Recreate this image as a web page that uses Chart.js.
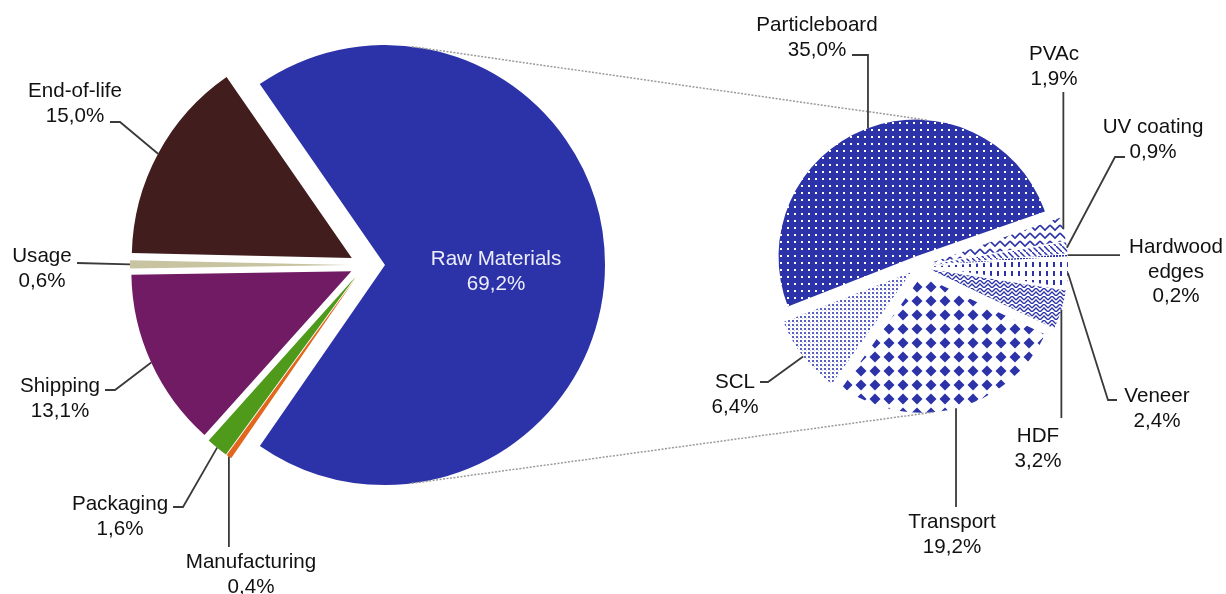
<!DOCTYPE html>
<html>
<head>
<meta charset="utf-8">
<script src="https://cdn.jsdelivr.net/npm/chart.js@4.4.1/dist/chart.umd.min.js"></script>
<style>
  html, body { margin: 0; padding: 0; background: #fff; }
  #wrap { position: relative; width: 1226px; height: 594px; }
  canvas { position: absolute; left: 0; top: 0; }
</style>
</head>
<body>
<div id="wrap">
  <canvas id="lifeCycle" width="1226" height="594"></canvas>
  <canvas id="rawBreakdown" width="1226" height="594"></canvas>
</div>
<script>
// life cycle phases, share of total (%)
const phaseLabels = ["Raw Materials", "Manufacturing", "Packaging", "Shipping", "Usage", "End-of-life"];
const phaseShares = [69.2, 0.4, 1.6, 13.1, 0.6, 15.0];
const phaseColors = ["#2c32a8", "#e2661d", "#4f9a1b", "#701b64", "#c8c3a1", "#421d1d"];

// raw materials broken down, share of total (%)
const rawLabels = ["Particleboard", "PVAc", "UV coating", "Hardwood edges", "Veneer", "HDF", "Transport", "SCL"];
const rawShares = [35.0, 1.9, 0.9, 0.2, 2.4, 3.2, 19.2, 6.4];

const BLUE = "#2c32a8";
const FONT = '20.6px "Liberation Sans", Arial, sans-serif';
const LINE_H = 24.5;

// how far each slice is pulled out of the pie (px)
const phaseExplode = [20, 15, 15, 15, 15, 15];
const rawExplode = [10, 12, 12, 12, 12, 12, 10, 10];

// label placement: text centre x, first baseline y, leader bend points (null = keep arc coordinate)
const phaseCallouts = [
  { x: 496, y: 265, color: "#eceefa" },
  { x: 251, y: 568, leader: [[null, 547]] },
  { x: 120, y: 510, leader: [[183, 507], [173, 507]] },
  { x: 60, y: 392, leader: [[115, 390], [105, 390]] },
  { x: 42, y: 262, leader: [[77, 263]] },
  { x: 75, y: 97, leader: [[120, 122], [110, 122]] },
];
const rawCallouts = [
  { x: 817, y: 31, leader: [[null, 55], [852, 55]] },
  { x: 1054, y: 60, leader: [[null, 92]] },
  { x: 1153, y: 133, leader: [[1115, 157], [1125, 157]] },
  { x: 1176, y: 253, wrap: true, leader: [[1120, null]] },
  { x: 1157, y: 402, leader: [[1108, 400], [1117, 400]] },
  { x: 1038, y: 442, leader: [[null, 418]] },
  { x: 952, y: 528, leader: [[null, 507]] },
  { x: 735, y: 388, leader: [[768, 382], [760, 382]] },
];

function fmt(v) {
  return v.toFixed(1).replace(".", ",") + "%";
}

// small repeating fills for the raw materials pie
function makePattern(ctx, w, h, paint) {
  const c = document.createElement("canvas");
  c.width = w;
  c.height = h;
  const g = c.getContext("2d");
  paint(g, w, h);
  return ctx.createPattern(c, "repeat");
}

function rawPatterns(ctx) {
  const white = (g, w, h) => { g.fillStyle = "#fff"; g.fillRect(0, 0, w, h); };
  return [
    // particleboard: blue with white dots
    makePattern(ctx, 7, 7, (g, w, h) => {
      g.fillStyle = BLUE; g.fillRect(0, 0, w, h);
      g.fillStyle = "#fff"; g.fillRect(3, 3, 2, 2);
    }),
    // PVAc: chevrons
    makePattern(ctx, 10, 8, (g, w, h) => {
      white(g, w, h);
      g.strokeStyle = BLUE; g.lineWidth = 1.6;
      g.beginPath(); g.moveTo(0, 1); g.lineTo(5, 6); g.lineTo(10, 1); g.stroke();
    }),
    // UV coating: diagonal strokes
    makePattern(ctx, 6, 6, (g, w, h) => {
      white(g, w, h);
      g.strokeStyle = BLUE; g.lineWidth = 1.5;
      g.beginPath(); g.moveTo(0, 0); g.lineTo(6, 6); g.stroke();
    }),
    // hardwood edges: dotted
    makePattern(ctx, 3, 3, (g, w, h) => {
      white(g, w, h);
      g.fillStyle = BLUE; g.fillRect(0, 0, 2, 2);
    }),
    // veneer: vertical dashes
    makePattern(ctx, 7, 9, (g, w, h) => {
      white(g, w, h);
      g.fillStyle = BLUE; g.fillRect(3, 1, 2, 5);
    }),
    // HDF: weave
    makePattern(ctx, 8, 8, (g, w, h) => {
      white(g, w, h);
      g.strokeStyle = BLUE; g.lineWidth = 1.4;
      g.beginPath();
      g.moveTo(0, 4); g.lineTo(4, 0); g.lineTo(8, 4);
      g.moveTo(0, 8); g.lineTo(4, 4); g.lineTo(8, 8);
      g.stroke();
    }),
    // transport: diamonds
    makePattern(ctx, 14, 14, (g, w, h) => {
      white(g, w, h);
      g.fillStyle = BLUE;
      g.beginPath(); g.moveTo(7, 1.5); g.lineTo(12.5, 7); g.lineTo(7, 12.5); g.lineTo(1.5, 7); g.closePath(); g.fill();
    }),
    // SCL: fine light dots
    makePattern(ctx, 4, 4, (g, w, h) => {
      white(g, w, h);
      g.fillStyle = "#5a60c4"; g.fillRect(0, 0, 2, 2);
      g.fillStyle = "#c9cbef"; g.fillRect(2, 2, 1, 1);
    }),
  ];
}

// pull each slice out along its middle angle
const explodePlugin = {
  id: "explode",
  afterDatasetUpdate(chart) {
    const amounts = chart.options.plugins.explode.amounts;
    chart.getDatasetMeta(0).data.forEach((arc, i) => {
      const mid = (arc.startAngle + arc.endAngle) / 2;
      arc.x += Math.cos(mid) * amounts[i];
      arc.y += Math.sin(mid) * amounts[i];
    });
  },
};

function arcPoint(arc, angle) {
  const a = angle === undefined ? (arc.startAngle + arc.endAngle) / 2 : angle;
  return [arc.x + Math.cos(a) * arc.outerRadius, arc.y + Math.sin(a) * arc.outerRadius];
}

// leader lines and text labels
const calloutPlugin = {
  id: "callouts",
  afterDraw(chart) {
    const { callouts, names, values } = chart.options.plugins.callouts;
    const ctx = chart.ctx;
    const arcs = chart.getDatasetMeta(0).data;
    ctx.save();
    callouts.forEach((c, i) => {
      if (c.leader) {
        const p0 = arcPoint(arcs[i]);
        ctx.strokeStyle = "#3a3a3a";
        ctx.lineWidth = 1.8;
        ctx.beginPath();
        ctx.moveTo(p0[0], p0[1]);
        c.leader.forEach(([x, y]) => ctx.lineTo(x === null ? p0[0] : x, y === null ? p0[1] : y));
        ctx.stroke();
      }
      const lines = c.wrap ? names[i].split(" ") : [names[i]];
      lines.push(fmt(values[i]));
      ctx.font = FONT;
      ctx.textAlign = "center";
      ctx.textBaseline = "alphabetic";
      ctx.fillStyle = c.color || "#111";
      lines.forEach((t, k) => ctx.fillText(t, c.x, c.y + k * LINE_H));
    });
    ctx.restore();
  },
};

const leftCanvas = document.getElementById("lifeCycle");
const leftChart = new Chart(leftCanvas, {
  type: "pie",
  data: {
    labels: phaseLabels,
    datasets: [{
      data: phaseShares,
      backgroundColor: phaseColors,
      borderWidth: 0,
      clip: false,
    }],
  },
  options: {
    responsive: false,
    animation: false,
    events: [],
    radius: 220,
    rotation: -34.7,
    layout: { padding: { left: 0, top: 0, right: 496, bottom: 64 } },
    plugins: {
      legend: { display: false },
      tooltip: { enabled: false },
      explode: { amounts: phaseExplode },
      callouts: { callouts: phaseCallouts, names: phaseLabels, values: phaseShares },
    },
  },
  plugins: [explodePlugin, calloutPlugin],
});

// dotted lines joining the raw materials slice to its breakdown
const connectorPlugin = {
  id: "connectors",
  afterDraw(chart) {
    const raw = leftChart.getDatasetMeta(0).data[0];
    const arcs = chart.getDatasetMeta(0).data;
    const deg = Math.PI / 180;
    const pairs = [
      [arcPoint(raw, -83 * deg), arcPoint(arcs[0], -85 * deg)],
      [arcPoint(raw, 83 * deg), arcPoint(arcs[6], 85 * deg)],
    ];
    const ctx = chart.ctx;
    ctx.save();
    ctx.strokeStyle = "#9a9a9a";
    ctx.lineWidth = 1.5;
    ctx.setLineDash([2, 1.5]);
    pairs.forEach(([a, b]) => {
      ctx.beginPath();
      ctx.moveTo(a[0], a[1]);
      ctx.lineTo(b[0], b[1]);
      ctx.stroke();
    });
    ctx.restore();
  },
};

const rightCanvas = document.getElementById("rawBreakdown");
new Chart(rightCanvas, {
  type: "pie",
  data: {
    labels: rawLabels,
    datasets: [{
      data: rawShares,
      backgroundColor: rawPatterns(rightCanvas.getContext("2d")),
      borderWidth: 0,
      clip: false,
    }],
  },
  options: {
    responsive: false,
    animation: false,
    events: [],
    radius: 137,
    rotation: 248.65,
    layout: { padding: { left: 612, top: 0, right: 0, bottom: 62 } },
    plugins: {
      legend: { display: false },
      tooltip: { enabled: false },
      explode: { amounts: rawExplode },
      callouts: { callouts: rawCallouts, names: rawLabels, values: rawShares },
    },
  },
  plugins: [explodePlugin, connectorPlugin, calloutPlugin],
});
</script>
</body>
</html>
